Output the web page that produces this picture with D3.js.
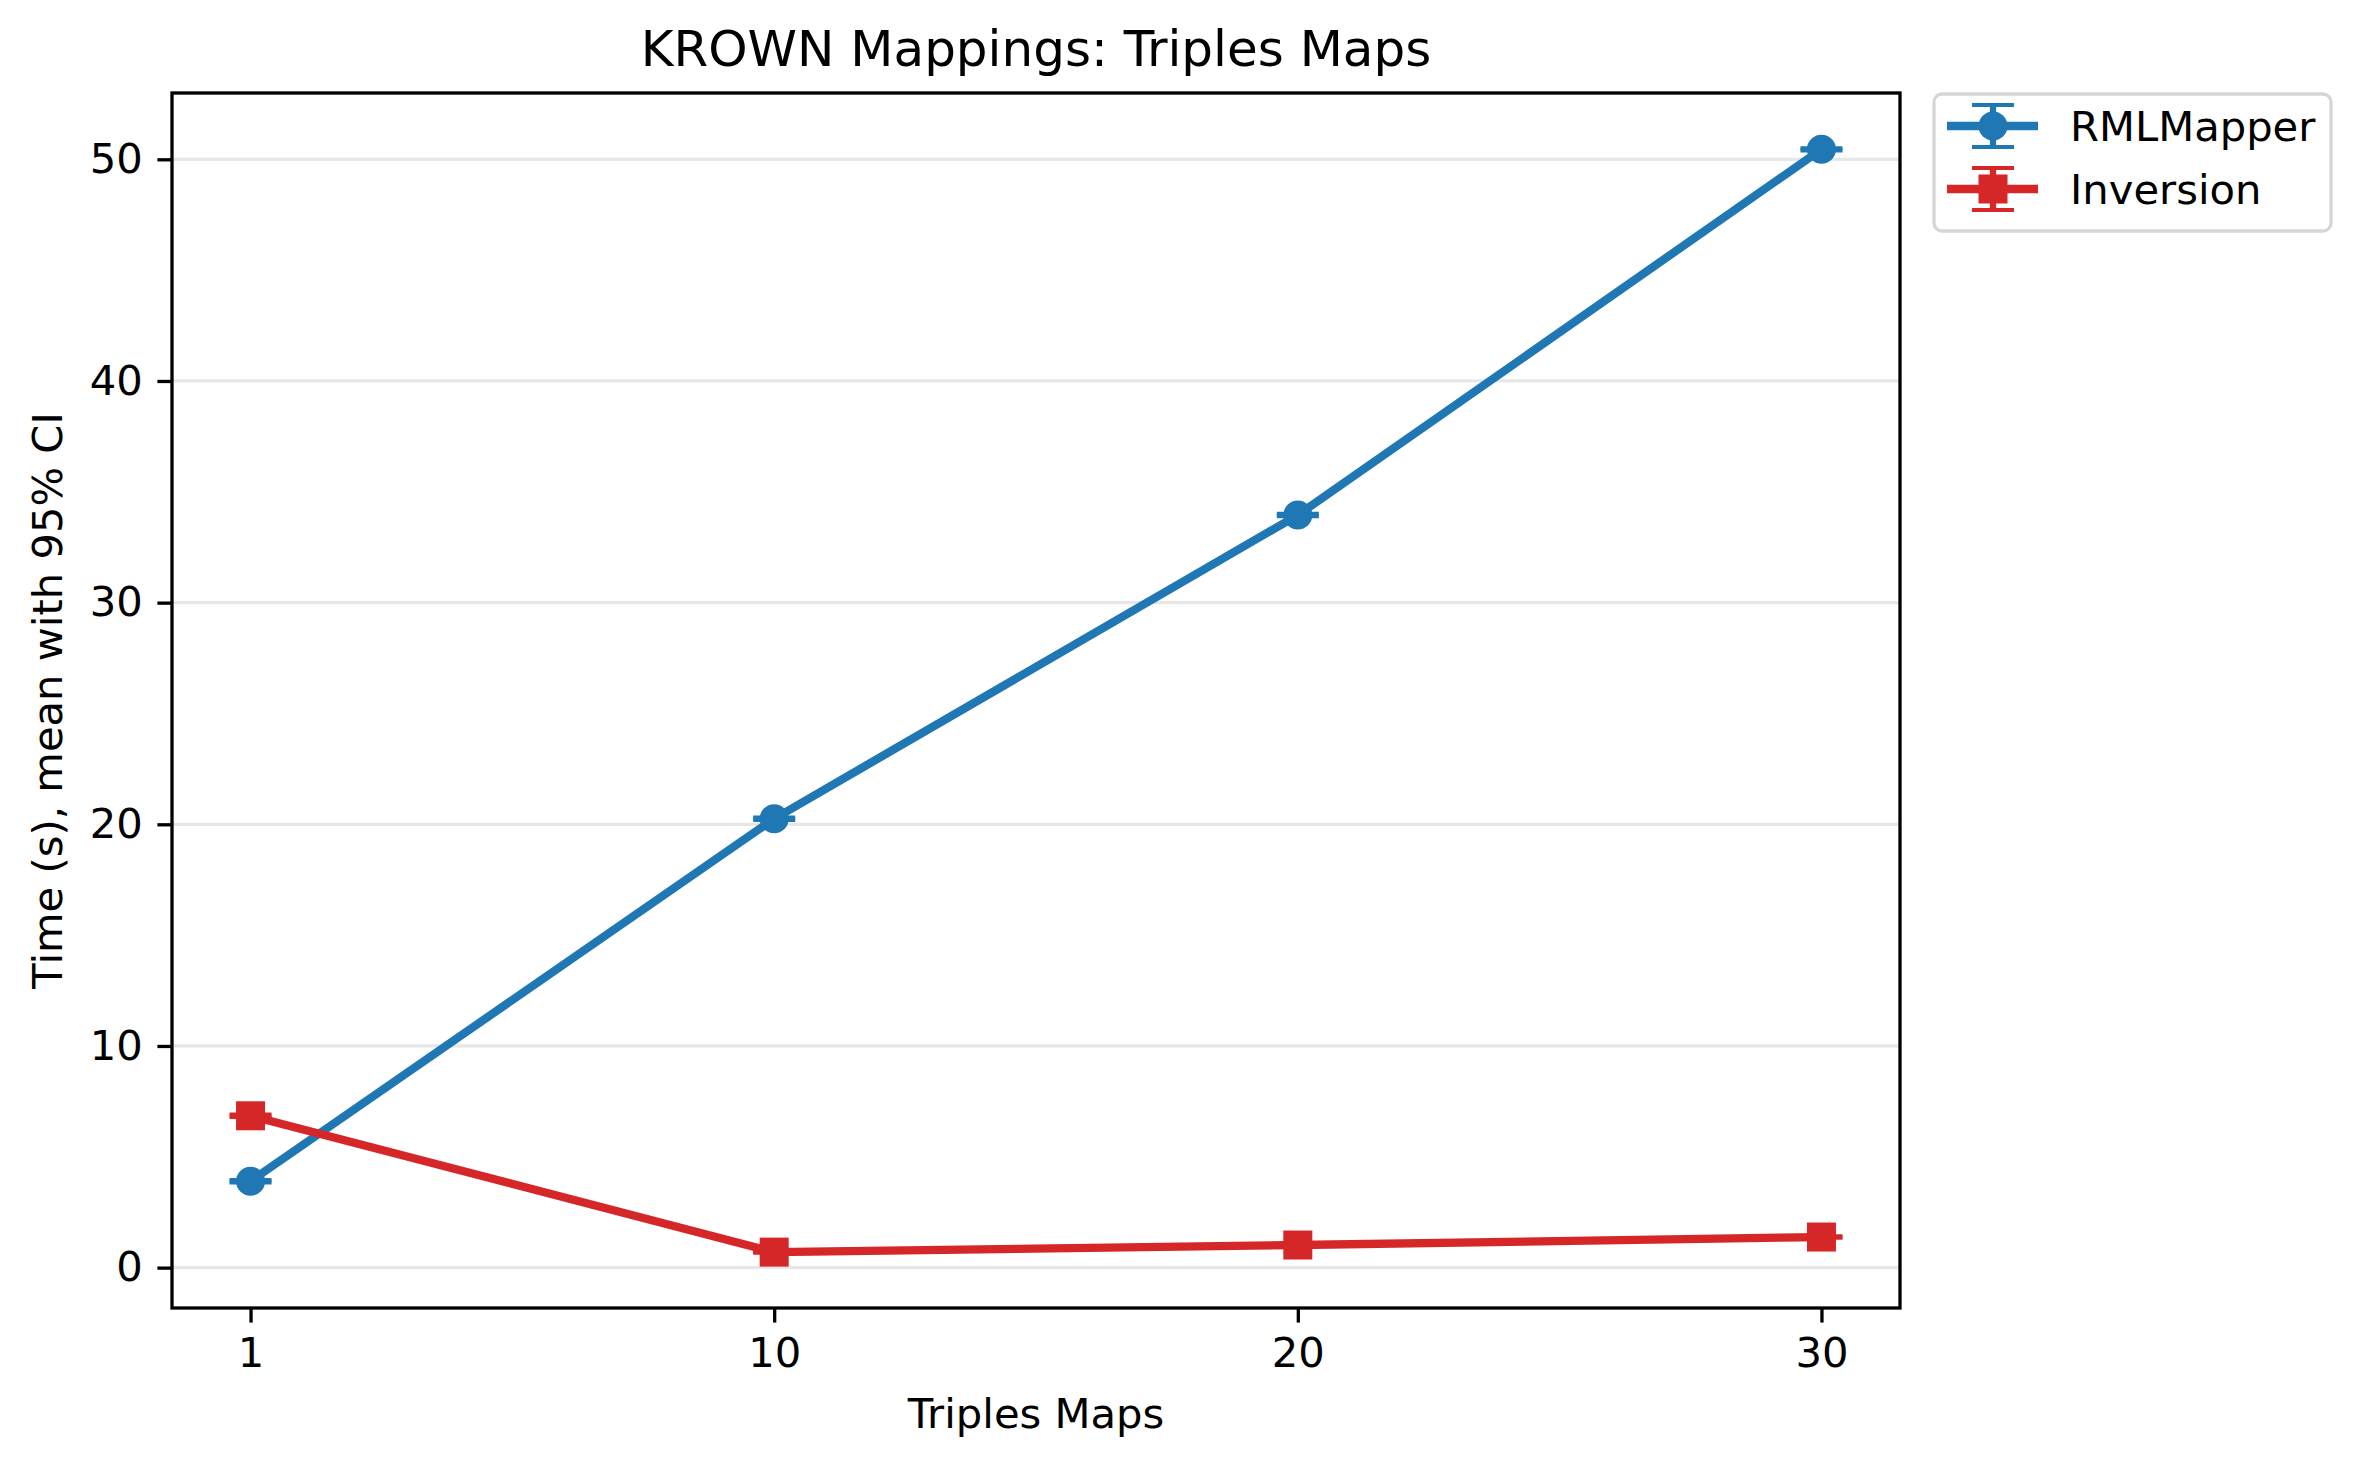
<!DOCTYPE html>
<html>
<head>
<meta charset="utf-8">
<script src="https://cdn.jsdelivr.net/npm/d3@7"></script>
<style>
  html, body { margin: 0; padding: 0; background: #fff; }
  svg { display: block; font-family: "DejaVu Sans", sans-serif; }
</style>
</head>
<body>
<script>
// ---- Data ----
const tripleMaps = ["1", "10", "20", "30"];
const seriesNames = ["RMLMapper", "Inversion"];
const rmlMapperMean = [3.9, 20.25, 33.95, 50.45];
const rmlMapperCI = [0.05, 0.05, 0.05, 0.05];
const inversionMean = [6.85, 0.7, 1.02, 1.38];
const inversionCI = [0.05, 0.03, 0.03, 0.03];
const yTicks = [0, 10, 20, 30, 40, 50];
const seriesColors = ["#1f77b4", "#d62728"];
const seriesShapes = ["circle", "square"];

const W = 2361, H = 1468;
const plot = { left: 172, top: 93, right: 1900, bottom: 1308 };

const svg = d3.select("body").append("svg").attr("width", W).attr("height", H);

// categorical x (equally spaced) with matplotlib-like 5% margins
const n = tripleMaps.length;
const xi = d3.scaleLinear().domain([-0.05 * (n - 1), (n - 1) * 1.05]).range([plot.left, plot.right]);
const x = c => xi(tripleMaps.indexOf(c));
const yMin = 0.67, yMax = 50.5, yPad = (yMax - yMin) * 0.05;
const y = d3.scaleLinear().domain([yMin - yPad, yMax + yPad]).range([plot.bottom, plot.top]);

// grid
svg.append("g").selectAll("line").data(yTicks).join("line")
  .attr("x1", plot.left).attr("x2", plot.right)
  .attr("y1", d => y(d)).attr("y2", d => y(d))
  .attr("stroke", "#b0b0b0").attr("stroke-opacity", 0.3).attr("stroke-width", 3.3);

// axes
const fontPx = 41.7;
const yAxis = d3.axisLeft(y).tickValues(yTicks).tickSize(14.6).tickPadding(14.6).tickFormat(d3.format("d"));
const gy = svg.append("g").attr("transform", `translate(${plot.left},0)`).call(yAxis);
const xAxis = d3.axisBottom(xi).tickValues(d3.range(n)).tickSize(14.6).tickPadding(14.6)
  .tickFormat(i => tripleMaps[i]);
const gx = svg.append("g").attr("transform", `translate(0,${plot.bottom})`).call(xAxis);
[gx, gy].forEach(g => {
  g.select(".domain").remove();
  g.selectAll(".tick line").attr("stroke", "#000").attr("stroke-width", 3.3);
  g.selectAll(".tick text").attr("font-size", fontPx).attr("fill", "#000")
    .attr("font-family", "DejaVu Sans");
});

const series = [
  { name: seriesNames[0], mean: rmlMapperMean, ci: rmlMapperCI, color: seriesColors[0], shape: seriesShapes[0] },
  { name: seriesNames[1], mean: inversionMean, ci: inversionCI, color: seriesColors[1], shape: seriesShapes[1] }
];

const line = d3.line().x((d, i) => x(tripleMaps[i])).y(d => y(d));
const capHalf = 21, markerD = 29;

function drawMarker(g, shape, cx, cy, color) {
  if (shape === "circle") {
    g.append("circle").attr("cx", cx).attr("cy", cy).attr("r", markerD / 2).attr("fill", color);
  } else {
    g.append("rect").attr("x", cx - markerD / 2).attr("y", cy - markerD / 2)
      .attr("width", markerD).attr("height", markerD).attr("fill", color);
  }
}

series.forEach(s => {
  const g = svg.append("g");
  s.mean.forEach((m, i) => {
    const cx = x(tripleMaps[i]);
    const lo = y(m - s.ci[i]), hi = y(m + s.ci[i]);
    g.append("line").attr("x1", cx).attr("x2", cx).attr("y1", lo).attr("y2", hi)
      .attr("stroke", s.color).attr("stroke-width", 6.25);
    [lo, hi].forEach(yy => g.append("line").attr("x1", cx - capHalf).attr("x2", cx + capHalf)
      .attr("y1", yy).attr("y2", yy).attr("stroke", s.color).attr("stroke-width", 4.2));
  });
  g.append("path").datum(s.mean).attr("d", line).attr("fill", "none")
    .attr("stroke", s.color).attr("stroke-width", 8.3).attr("stroke-linejoin", "round");
  s.mean.forEach((m, i) => drawMarker(g, s.shape, x(tripleMaps[i]), y(m), s.color));
});

// frame
svg.append("rect").attr("x", plot.left).attr("y", plot.top)
  .attr("width", plot.right - plot.left).attr("height", plot.bottom - plot.top)
  .attr("fill", "none").attr("stroke", "#000").attr("stroke-width", 3.3);

// title and labels
svg.append("text").attr("x", (plot.left + plot.right) / 2).attr("y", 66)
  .attr("text-anchor", "middle").attr("font-size", 50).text("KROWN Mappings: Triples Maps");
svg.append("text").attr("x", (plot.left + plot.right) / 2).attr("y", 1428)
  .attr("text-anchor", "middle").attr("font-size", fontPx).text("Triples Maps");
svg.append("text").attr("transform", `translate(62,${(plot.top + plot.bottom) / 2}) rotate(-90)`)
  .attr("text-anchor", "middle").attr("font-size", fontPx).text("Time (s), mean with 95% CI");

// legend
const leg = svg.append("g");
leg.append("rect").attr("x", 1934).attr("y", 94).attr("width", 2331 - 1934).attr("height", 231 - 94)
  .attr("rx", 8).attr("fill", "#fff").attr("stroke", "#d6d6d6").attr("stroke-width", 3.3);
const legRows = [126, 189];
series.forEach((s, i) => {
  const cy = legRows[i], cx = 1993;
  leg.append("line").attr("x1", 1947).attr("x2", 2038).attr("y1", cy).attr("y2", cy)
    .attr("stroke", s.color).attr("stroke-width", 8.3);
  leg.append("line").attr("x1", cx).attr("x2", cx).attr("y1", cy - 21).attr("y2", cy + 21)
    .attr("stroke", s.color).attr("stroke-width", 6.25);
  [cy - 21, cy + 21].forEach(yy => leg.append("line").attr("x1", cx - capHalf).attr("x2", cx + capHalf)
    .attr("y1", yy).attr("y2", yy).attr("stroke", s.color).attr("stroke-width", 4.2));
  drawMarker(leg, s.shape, cx, cy, s.color);
  leg.append("text").attr("x", 2070).attr("y", cy + 15).attr("font-size", fontPx).text(s.name);
});
</script>
</body>
</html>
